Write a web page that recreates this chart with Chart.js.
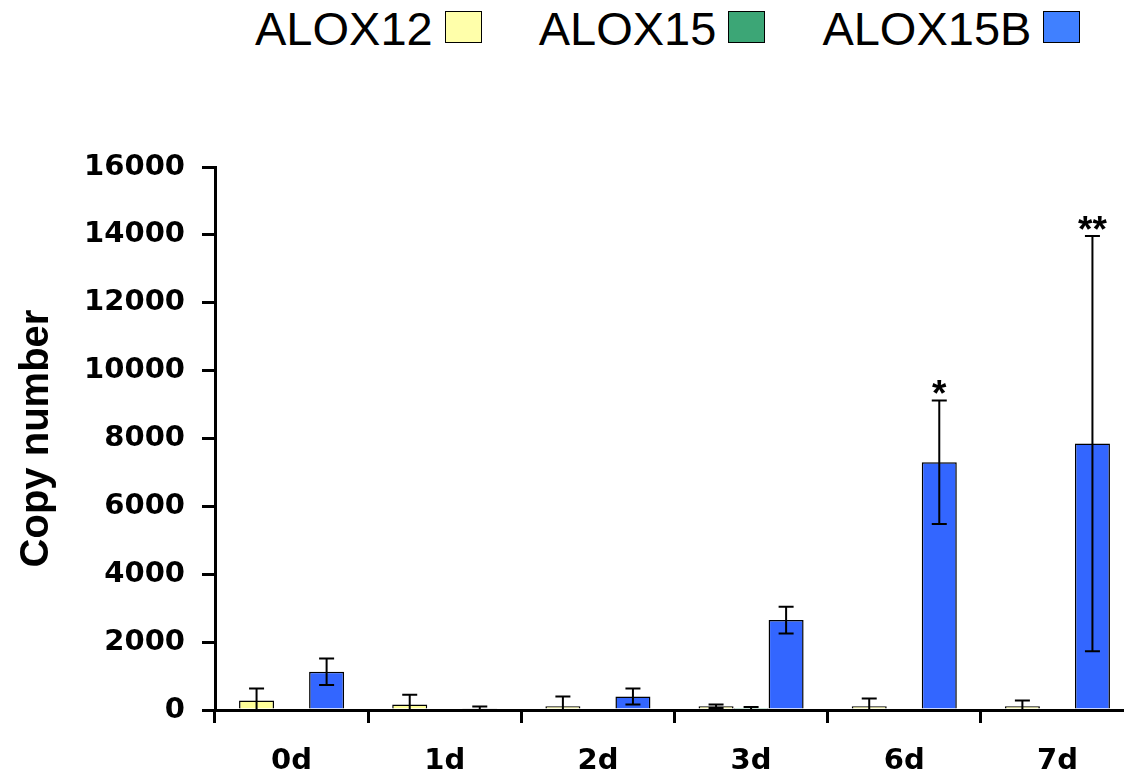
<!DOCTYPE html>
<html>
<head>
<meta charset="utf-8">
<script src="https://cdn.jsdelivr.net/npm/chart.js@4.4.1/dist/chart.umd.min.js"></script>
<style>
  html, body { margin: 0; padding: 0; background: #fff; overflow: hidden; }
  #wrap { position: relative; width: 1124px; height: 782px; overflow: hidden; }
  #chart { position: absolute; left: 0; top: 0; }
  #legend { position: absolute; top: 0; left: 255px; display: flex; gap: 57px;
            font-family: 'Liberation Sans', Arial, sans-serif; font-size: 47px; color: #000; }
  .item { display: flex; }
  .item .t { display: block; line-height: 47px; margin-top: 5px; }
  .item .b { display: block; width: 35px; height: 30px; margin-top: 11px; margin-left: 12px; border: 1px solid #000; }
</style>
</head>
<body>
<div id="wrap">
  <div id="legend"></div>
  <canvas id="chart" width="1134" height="782"></canvas>
</div>
<script>
// data
var categories = ['0d', '1d', '2d', '3d', '6d', '7d'];
var alox12    = [280, 160, 110, 110, 110, 110];
var alox12Err = [350, 290, 290, 50, 230, 170];
var alox15    = [0, 0, 0, 20, 0, 0];
var alox15Err = [0, 0, 0, 70, 0, 0];
var alox15b    = [1130, 50, 400, 2650, 7300, 7850];
var alox15bErr = [390, 50, 235, 395, 1820, 6120];
var alox15bSig = ['', '', '', '', '*', '**'];
var yTicks = [0, 2000, 4000, 6000, 8000, 10000, 12000, 14000, 16000];

var series = [
  {label: 'ALOX12', data: alox12, err: alox12Err, fill: '#FFFF99', box: '#FFFFAA'},
  {label: 'ALOX15', data: alox15, err: alox15Err, fill: '#339966', box: '#3CA676'},
  {label: 'ALOX15B', data: alox15b, err: alox15bErr, sig: alox15bSig, fill: '#3366FF', box: '#4080FF'}
];

// legend: name first, swatch after it
var legend = document.getElementById('legend');
series.forEach(function(s) {
  var item = document.createElement('div');
  item.className = 'item';
  item.innerHTML = '<span class="t">' + s.label + '</span><span class="b" style="background:' + s.box + '"></span>';
  legend.appendChild(item);
});

// error bars and significance stars
var errorBars = {
  id: 'errorBars',
  afterDatasetsDraw: function(chart) {
    var ctx = chart.ctx, y = chart.scales.y;
    ctx.save();
    ctx.strokeStyle = '#000';
    ctx.lineWidth = 2;
    ctx.fillStyle = '#000';
    ctx.font = 'bold 37px "Liberation Sans", Arial, sans-serif';
    ctx.textAlign = 'center';
    ctx.textBaseline = 'alphabetic';
    series.forEach(function(s, i) {
      chart.getDatasetMeta(i).data.forEach(function(bar, j) {
        var v = s.data[j], e = s.err[j];
        if (!e) return;
        var top = y.getPixelForValue(v + e);
        var low = v - e;
        var bot = y.getPixelForValue(Math.max(low, 0));
        ctx.beginPath();
        ctx.moveTo(bar.x, top); ctx.lineTo(bar.x, bot);
        ctx.moveTo(bar.x - 7.5, top); ctx.lineTo(bar.x + 7.5, top);
        if (low > 0) { ctx.moveTo(bar.x - 7.5, bot); ctx.lineTo(bar.x + 7.5, bot); }
        ctx.stroke();
        if (s.sig && s.sig[j]) ctx.fillText(s.sig[j], bar.x, top + 6);
      });
    });
    ctx.restore();
  }
};

var tickFont = {family: '"DejaVu Sans", sans-serif', size: 29, weight: 'bold'};

new Chart(document.getElementById('chart').getContext('2d'), {
  type: 'bar',
  data: {
    labels: categories,
    datasets: series.map(function(s) {
      return {
        label: s.label,
        data: s.data,
        backgroundColor: s.fill,
        borderColor: '#000',
        borderWidth: 1.5,
        categoryPercentage: 0.686,
        barPercentage: 1.0
      };
    })
  },
  options: {
    responsive: false,
    animation: false,
    layout: {padding: {top: 167, left: 0, right: 0, bottom: 0}},
    plugins: {legend: {display: false}, tooltip: {enabled: false}},
    scales: {
      x: {
        grid: {drawOnChartArea: false, color: '#000', lineWidth: 3, tickLength: 13, offset: true},
        border: {color: '#000', width: 3},
        ticks: {color: '#000', font: tickFont, padding: 21, maxRotation: 0},
        afterFit: function(scale) { scale.height = 72; }
      },
      y: {
        min: 0,
        max: 16000,
        afterBuildTicks: function(scale) { scale.ticks = yTicks.map(function(v) { return {value: v}; }); },
        grid: {drawOnChartArea: false, color: '#000', lineWidth: 3, tickLength: 13},
        border: {color: '#000', width: 3},
        ticks: {color: '#000', font: tickFont, padding: 17, callback: function(v) { return String(v); }},
        title: {
          display: true,
          text: 'Copy number',
          color: '#000',
          font: {family: '"Liberation Sans", Arial, sans-serif', size: 40, weight: 'bold'},
          padding: {top: 13, bottom: 0}
        },
        afterFit: function(scale) { scale.width = 215; }
      }
    }
  },
  plugins: [errorBars]
});
</script>
</body>
</html>
